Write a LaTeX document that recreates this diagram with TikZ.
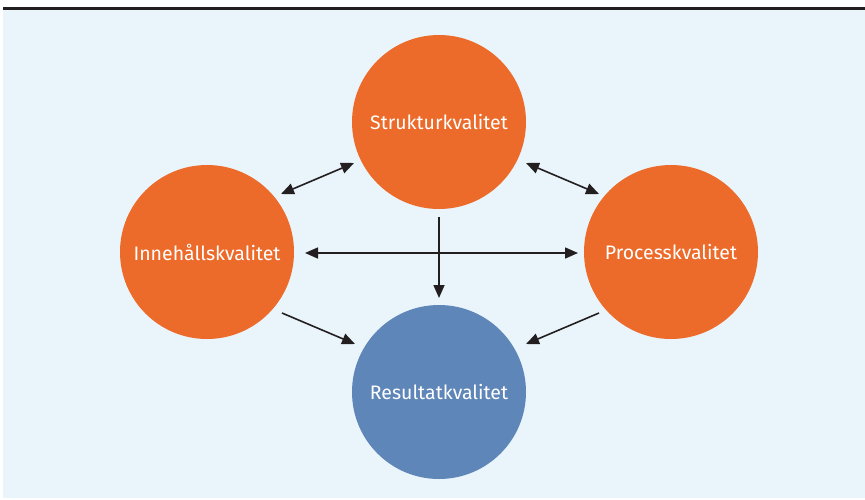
\documentclass[tikz,border=0pt]{standalone}
\usepackage{fontspec}
\setmainfont{Fira Sans}
\usetikzlibrary{arrows.meta}
\definecolor{bgblue}{HTML}{EAF5FB}
\definecolor{orng}{HTML}{EC6B2A}
\definecolor{blu}{HTML}{5F86B8}
\definecolor{ink}{HTML}{231F20}
\tikzset{
  circ/.style={circle, minimum size=174pt, inner sep=0pt, text=white, font=\fontsize{19.5}{22}\selectfont},
  arr/.style={-{Triangle[length=13pt,width=11pt]}, line width=1.6pt, draw=ink},
  darr/.style={{Triangle[length=13pt,width=11pt]}-{Triangle[length=13pt,width=11pt]}, line width=1.6pt, draw=ink}
}
\begin{document}
\begin{tikzpicture}[x=1pt,y=-1pt]
\useasboundingbox (0,0) rectangle (865,499);
\fill[bgblue] (3,10) rectangle (865,498);
\fill[ink] (3,6.5) rectangle (865,9.5);
\node[circ, fill=orng] (s) at (439,122) {Strukturkvalitet};
\node[circ, fill=orng] (i) at (207,252) {Innehållskvalitet};
\node[circ, fill=orng] (p) at (671,252) {Processkvalitet};
\node[circ, fill=blu] (r) at (439,392) {Resultatkvalitet};
\coordinate (a1) at (281,194); \coordinate (a2) at (354,163);
\coordinate (b1) at (526,163); \coordinate (b2) at (599,194);
\coordinate (c1) at (305,253); \coordinate (c2) at (578,253);
\coordinate (d1) at (439,217); \coordinate (d2) at (439,298);
\coordinate (e1) at (282,313); \coordinate (e2) at (355,344);
\coordinate (f1) at (599,313); \coordinate (f2) at (526,344);
\draw[darr] (a1) -- (a2);
\draw[darr] (b1) -- (b2);
\draw[darr] (c1) -- (c2);
\draw[arr] (d1) -- (d2);
\draw[arr] (e1) -- (e2);
\draw[arr] (f1) -- (f2);
\end{tikzpicture}
\end{document}
